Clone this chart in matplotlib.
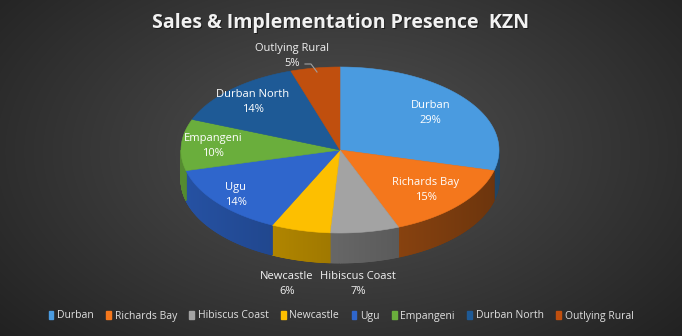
import numpy as np
import matplotlib.pyplot as plt
from matplotlib.patches import Polygon, Patch
from matplotlib.colors import to_rgb

# dados do grafico
categorias = ["Durban", "Richards Bay", "Hibiscus Coast", "Newcastle", "Ugu",
              "Empangeni", "Durban North", "Outlying Rural"]
valores = [29, 15, 7, 6, 14, 10, 14, 5]
cores = ["#4a9be0", "#f4771c", "#a3a3a3", "#fdbf00", "#2f66cc",
         "#6aae3c", "#1e5a96", "#c04f0e"]

# estilo / geometria (pixels)
W, H = 682, 336
cx, cy, rx, ry, prof = 340, 150, 159, 83, 30
dist_rotulo = [0.72, 0.72, None, None, 0.85, 0.80, 0.80, None]
fonte = "Open Sans"

fig = plt.figure(figsize=(W / 100, H / 100), dpi=100)
ax = fig.add_axes([0, 0, 1, 1])
ax.set_xlim(0, W)
ax.set_ylim(H, 0)
ax.axis("off")

# fundo com gradiente radial
yy, xx = np.mgrid[0:H, 0:W]
d = np.sqrt(((xx - W / 2) / (W * 0.6)) ** 2 + ((yy - H * 0.45) / (H * 0.75)) ** 2)
g = np.clip(0.32 - 0.17 * d, 0.13, 0.32)
ax.imshow(np.dstack([g, g, g]), extent=[0, W, H, 0], zorder=0, aspect="auto")


def ponto(t, dy=0):
    return cx + rx * np.cos(np.radians(t)), cy - ry * np.sin(np.radians(t)) + dy


total = sum(valores)
fr = np.cumsum([0] + valores) / total
t_ini = 90 - 360 * fr[:-1]
t_fim = 90 - 360 * fr[1:]

# lateral (parede) - so a parte da frente
for i in range(len(valores)):
    ts = np.linspace(t_ini[i], t_fim[i], 200)
    frente = np.sin(np.radians(ts)) < 0
    if not frente.any():
        continue
    ts = ts[frente]
    base = np.array(to_rgb(cores[i]))
    for j in range(len(ts) - 1):
        t0, t1 = ts[j], ts[j + 1]
        f = 0.62 - 0.18 * np.cos(np.radians((t0 + t1) / 2))
        p = [ponto(t0), ponto(t1), ponto(t1, prof), ponto(t0, prof)]
        ax.add_patch(Polygon(p, closed=True, fc=base * f, ec=base * f, lw=0.6, zorder=2))

# topo
for i in range(len(valores)):
    ts = np.linspace(t_ini[i], t_fim[i], 120)
    p = [(cx, cy)] + [ponto(t) for t in ts]
    ax.add_patch(Polygon(p, closed=True, fc=cores[i], ec=cores[i], lw=0.4, zorder=3))

# rotulos
for i in range(len(valores)):
    tm = (t_ini[i] + t_fim[i]) / 2
    txt = f"{categorias[i]}\n{valores[i]}%"
    if dist_rotulo[i] is not None:
        k = dist_rotulo[i]
        x = cx + rx * k * np.cos(np.radians(tm))
        y = cy - ry * k * np.sin(np.radians(tm))
        ax.text(x, y, txt, ha="center", va="center", color="white",
                fontsize=8, family=fonte, linespacing=1.5, zorder=5)

# rotulos de fora
ax.text(358, 284, f"{categorias[2]}\n{valores[2]}%", ha="center", va="center",
        color="#f2f2f2", fontsize=8, family=fonte, linespacing=1.5, zorder=5)
ax.text(287, 284, f"{categorias[3]}\n{valores[3]}%", ha="center", va="center",
        color="#f2f2f2", fontsize=8, family=fonte, linespacing=1.5, zorder=5)
ax.text(292, 56, f"{categorias[7]}\n{valores[7]}%", ha="center", va="center",
        color="#f2f2f2", fontsize=8, family=fonte, linespacing=1.5, zorder=5)
ax.plot([305, 311, 317], [64, 64, 72], color="#a0a0a0", lw=0.8, zorder=5)

# titulo
titulo = "Sales & Implementation Presence  KZN"
ax.text(W / 2 + 1, 24, titulo, ha="center", va="center",
        color="#1a1a1a", fontsize=14, fontweight="bold", family=fonte, zorder=5)
ax.text(W / 2, 23, titulo, ha="center", va="center",
        color="#f2f2f2", fontsize=14, fontweight="bold", family=fonte, zorder=6)

# legenda
handles = [Patch(fc=c, ec=c) for c in cores]
leg = fig.legend(handles, categorias, loc="center", bbox_to_anchor=(0.5, 1 - 316 / H),
                 ncol=8, frameon=False, handlelength=0.45, handleheight=0.7,
                 handletextpad=0.35, columnspacing=1.2, prop={"family": fonte, "size": 7.5})
for t in leg.get_texts():
    t.set_color("#e0e0e0")

fig.savefig("out.png", dpi=100)
